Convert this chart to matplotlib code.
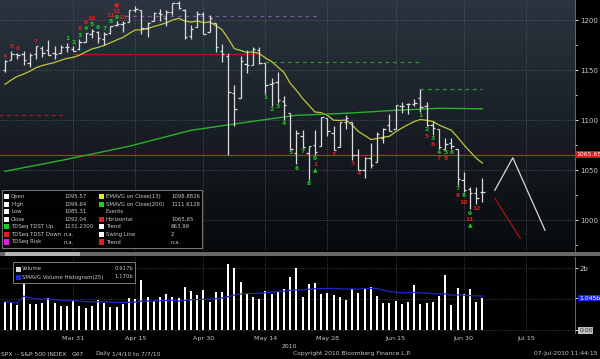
import numpy as np
import pandas as pd
import matplotlib
matplotlib.use("Agg")
import matplotlib.pyplot as plt
from matplotlib.patches import Rectangle
from matplotlib.colors import LinearSegmentedColormap

W, H = 600, 359

# trading days on the chart (Mar 16 .. Jul 6 2010)
holidays = pd.to_datetime(["2010-04-02", "2010-05-31", "2010-07-05"])
days = pd.bdate_range("2010-03-16", "2010-07-06").drop(holidays)
axis_days = pd.bdate_range("2010-03-16", "2010-07-30").drop(holidays)

opens = [1150.8, 1159.9, 1166.1, 1166.7, 1157.2, 1166.5, 1172.7, 1170.0, 1167.6, 1167.7,
         1173.8, 1171.8, 1171.2, 1178.7, 1186.0, 1188.2, 1181.8, 1187.5, 1194.9, 1195.9,
         1198.7, 1210.8, 1210.2, 1192.1, 1199.0, 1207.2, 1202.5, 1207.9, 1217.1, 1209.9,
         1184.6, 1193.3, 1206.8, 1188.6, 1197.5, 1169.2, 1164.4, 1127.0, 1122.3, 1156.4,
         1155.4, 1170.0, 1157.2, 1136.5, 1138.8, 1119.6, 1107.3, 1067.3, 1084.8, 1067.4,
         1075.5, 1074.3, 1102.6, 1087.3, 1073.0, 1098.8, 1098.4, 1065.8, 1050.8, 1062.8,
         1058.8, 1082.7, 1095.0, 1091.2, 1114.0, 1116.0, 1116.2, 1122.8, 1113.9, 1095.57,
         1090.9, 1071.8, 1077.5, 1071.1, 1040.6, 1031.1, 1027.6, 1028.1]
highs = [1160.3, 1169.8, 1167.8, 1169.2, 1167.8, 1174.7, 1174.2, 1180.7, 1173.9, 1174.9,
         1177.8, 1174.6, 1181.4, 1187.7, 1191.8, 1189.6, 1188.6, 1194.7, 1199.2, 1199.0,
         1210.7, 1213.9, 1210.2, 1197.9, 1208.6, 1211.0, 1210.3, 1217.3, 1219.8, 1211.4,
         1195.1, 1209.4, 1208.0, 1205.1, 1197.5, 1176.0, 1167.6, 1135.1, 1163.9, 1170.5,
         1172.9, 1173.6, 1157.2, 1141.9, 1148.7, 1124.3, 1107.3, 1090.2, 1090.0, 1074.8,
         1090.8, 1103.5, 1102.6, 1094.8, 1098.6, 1105.7, 1098.4, 1071.4, 1063.2, 1077.7,
         1087.9, 1092.0, 1105.9, 1115.6, 1118.7, 1117.7, 1121.0, 1131.2, 1118.5, 1099.64,
         1090.9, 1082.6, 1082.6, 1071.1, 1048.1, 1033.6, 1033.0, 1042.5]
lows = [1148.3, 1159.9, 1161.2, 1155.3, 1152.9, 1161.5, 1163.8, 1165.1, 1161.5, 1167.7,
        1168.5, 1169.3, 1170.7, 1178.7, 1182.8, 1177.3, 1175.1, 1186.0, 1194.7, 1188.8,
        1198.7, 1208.5, 1186.8, 1183.7, 1199.0, 1198.9, 1194.6, 1205.1, 1211.1, 1181.6,
        1181.8, 1193.3, 1186.3, 1188.6, 1168.1, 1158.2, 1065.8, 1094.2, 1122.3, 1147.7,
        1155.4, 1156.1, 1126.1, 1114.0, 1117.2, 1100.7, 1071.6, 1055.9, 1072.7, 1040.8,
        1065.6, 1074.3, 1084.8, 1069.9, 1072.9, 1091.8, 1060.5, 1050.3, 1042.2, 1052.3,
        1058.8, 1077.6, 1089.0, 1091.2, 1107.1, 1105.9, 1113.9, 1108.2, 1094.2, 1085.31,
        1071.6, 1071.4, 1071.5, 1035.2, 1028.3, 1010.9, 1015.9, 1018.4]
closes = [1159.5, 1166.2, 1165.8, 1159.9, 1165.8, 1174.2, 1167.7, 1165.7, 1166.6, 1173.2,
          1173.3, 1169.4, 1178.1, 1187.4, 1189.4, 1182.4, 1186.4, 1194.4, 1196.5, 1197.3,
          1210.7, 1211.7, 1192.1, 1197.5, 1207.2, 1205.9, 1208.7, 1217.3, 1212.1, 1183.7,
          1191.4, 1206.8, 1186.7, 1202.3, 1173.6, 1165.9, 1128.2, 1110.9, 1159.7, 1155.8,
          1171.7, 1157.4, 1135.7, 1136.9, 1120.8, 1115.1, 1071.6, 1087.7, 1073.7, 1074.0,
          1068.0, 1103.1, 1089.4, 1070.7, 1098.4, 1102.8, 1064.9, 1050.5, 1062.0, 1055.7,
          1086.8, 1091.6, 1089.6, 1115.2, 1114.6, 1116.0, 1117.5, 1113.2, 1095.3, 1092.04,
          1073.7, 1076.8, 1074.6, 1041.2, 1030.7, 1027.4, 1022.6, 1028.1]
# volume, billions
volume = [0.91, 0.88, 0.81, 1.77, 0.83, 0.85, 0.88, 1.02, 0.86, 0.78,
          0.77, 0.97, 0.78, 0.72, 0.78, 0.97, 0.88, 0.75, 0.73, 0.83,
          1.02, 1.00, 1.61, 1.05, 0.95, 1.08, 1.15, 1.05, 1.02, 1.38,
          1.26, 1.13, 1.29, 0.91, 1.24, 1.22, 2.12, 2.01, 1.56, 1.18,
          1.05, 0.99, 1.26, 1.16, 1.27, 1.32, 1.70, 1.99, 1.05, 1.48,
          1.53, 1.15, 1.18, 1.13, 1.05, 0.97, 1.32, 1.18, 1.31, 1.38,
          1.09, 0.86, 0.88, 0.95, 0.83, 0.91, 1.45, 0.84, 0.88, 0.917,
          1.09, 1.77, 0.81, 1.34, 1.16, 1.31, 0.91, 1.045]

ema_seed = 1136.0          # EMAVG(13) at the first bar
sma200_idx = [0, 10, 20, 30, 40, 47, 55, 63, 70, 77]
sma200_val = [1049, 1061, 1074, 1090, 1099, 1105, 1107, 1110, 1112, 1111.5]

tick_dates = ["2010-03-31", "2010-04-15", "2010-04-30", "2010-05-14",
              "2010-05-28", "2010-06-15", "2010-06-30", "2010-07-15"]
tick_labels = ["Mar 31", "Apr 15", "Apr 30", "May 14", "May 28", "Jun 15", "Jun 30", "Jul 15"]

# TD sequential counts: (bar, text, colour, side)
td_labels = [
    (0, "4", "r", "hi"), (1, "5", "r", "hi"), (2, "6", "r", "hi"), (5, "7", "r", "hi"),
    (10, "1", "g", "hi"), (11, "2", "g", "hi"), (12, "3", "g", "hi"), (12, "8", "r", "hi"),
    (13, "4", "g", "hi"), (13, "9", "r", "hi"), (14, "5", "g", "hi"), (14, "10", "r", "hi"),
    (15, "6", "g", "hi"), (16, "7", "g", "hi"), (17, "8", "g", "hi"), (17, "11", "r", "hi"),
    (18, "9", "g", "hi"), (18, "12", "r", "hi"), (18, "\u25cf", "r", "hi"), (19, "13", "r", "hi"),
    (42, "1", "g", "lo"), (43, "2", "g", "lo"), (44, "3", "g", "lo"), (45, "4", "g", "lo"),
    (46, "5", "g", "lo"), (47, "6", "g", "lo"), (48, "7", "g", "lo"), (49, "8", "g", "lo"),
    (50, "9", "g", "lo"), (50, "1", "r", "lo"), (50, "\u25b2", "g", "lo"),
    (53, "2", "r", "lo"), (56, "3", "r", "lo"), (57, "4", "r", "lo"),
    (67, "1", "g", "lo"), (68, "2", "g", "lo"), (68, "5", "r", "lo"), (69, "3", "g", "lo"),
    (69, "6", "r", "lo"), (70, "4", "g", "lo"), (70, "7", "r", "lo"), (71, "5", "g", "lo"),
    (71, "8", "r", "lo"), (72, "6", "g", "lo"), (73, "7", "g", "lo"), (73, "9", "r", "lo"),
    (74, "8", "g", "lo"), (74, "10", "r", "lo"), (75, "9", "g", "lo"), (75, "11", "r", "lo"),
    (75, "\u25b2", "g", "lo"), (76, "12", "r", "lo"),
]

# levels: (price, first bar, last bar)
horizontal = 1065.65
tdst_down = (1166.0, 11, 41)
old_support = (1105.0, -1, 9.4)
risk_line = (1204.6, 19.4, 50.3)
tdst_old = (1158.0, 42, 67.3)
tdst_up = (1131.23, 67, 77)
trend_white = ([79, 81.9, 87.1], [1030, 1062.5, 990])
trend_red = ([79, 83.1], [1022, 982])

# legend readings at the cursor bar (Jun 23)
sel = 69
legend_left = [("Open", "1095.57"), ("High", "1099.64"), ("Low", "1085.31"),
               ("Close", "1092.04"), ("TDSeq TDST Up", "1131.2300"),
               ("TDSeq TDST Down", "n.a."), ("TDSeq Risk", "n.a.")]
legend_right = [("EMAVG on Close(13)", "1098.8826"), ("SMAVG on Close(200)", "1111.6128"),
                ("Events", ""), ("Horizontal", "1065.65"), ("Trend", "663.99"),
                ("Swing Line", "2"), ("Trend", "n.a.")]
vol_legend = [("Volume", "0.917b"), ("SMAVG Volume Histogram(25)", "1.170b")]

RED, GREEN = "#d42020", "#22c822"
BAR = "#dcdcdc"
TXT = "#c8c8c8"

x = np.arange(len(days))
close = np.array(closes)
ema = np.empty(len(close))
ema[0] = ema_seed
k = 2 / 14
for i in range(1, len(close)):
    ema[i] = ema[i - 1] + k * (close[i] - ema[i - 1])
vol_sma = pd.Series(volume).rolling(25, min_periods=1).mean()

pos = {d: i for i, d in enumerate(axis_days)}
tick_x = [pos[pd.Timestamp(d)] for d in tick_dates]


def fig_xy(px, py):
    return px / W, 1 - py / H


fig = plt.figure(figsize=(6, 3.59), dpi=100, facecolor="black")
ax = fig.add_axes([0, 1 - 251 / H, 575 / W, 251 / H])
axv = fig.add_axes([0, 1 - 333 / H, 575 / W, 76 / H], sharex=ax)

xl = (-5 / 6.2, 570 / 6.2)
ax.set_xlim(*xl)
ax.set_ylim(969.3, 1220.3)

# background gradient
cmap = LinearSegmentedColormap.from_list("bb", ["#070a0d", "#2b343f"])
grad = np.linspace(0, 1, 256).reshape(-1, 1)
ax.imshow(grad, extent=[xl[0], xl[1], 969.3, 1220.3], origin="lower",
          aspect="auto", cmap=cmap, zorder=0)

for yv in range(1000, 1201, 50):
    ax.axhline(yv, color="#56606b", lw=0.6, ls=":", zorder=1)
for tx in tick_x:
    ax.axvline(tx, color="#56606b", lw=0.6, ls=":", zorder=1)
    axv.axvline(tx, color="#555555", lw=0.6, ls=":", zorder=1)

# levels
ax.axhline(horizontal, color=RED, lw=0.9, zorder=2)
ax.hlines(tdst_down[0], tdst_down[1], tdst_down[2], color="#b01818", lw=0.9, zorder=2)
ax.hlines(old_support[0], old_support[1], old_support[2], color="#b01818", lw=0.9,
          ls=(0, (3, 3)), zorder=2)
ax.hlines(risk_line[0], risk_line[1], risk_line[2], color="#7a5a9a", lw=0.9,
          ls=(0, (3, 3)), zorder=2)
ax.hlines(tdst_old[0], tdst_old[1], tdst_old[2], color="#2a9a2a", lw=0.9,
          ls=(0, (3, 3)), zorder=2)
ax.hlines(tdst_up[0], tdst_up[1], tdst_up[2], color="#2a9a2a", lw=0.9,
          ls=(0, (3, 3)), zorder=2)
ax.vlines(tdst_up[1], closes[tdst_up[1]], tdst_up[0], color="#2a9a2a", lw=0.9,
          ls=(0, (2, 2)), zorder=4)

# moving averages
ax.plot(x, ema, color="#c4c43c", lw=0.9, zorder=3)
ax.plot(sma200_idx, sma200_val, color="#2cb02c", lw=1.0, zorder=3)

# OHLC bars
ax.vlines(x, lows, highs, color=BAR, lw=0.9, zorder=4)
ax.hlines(opens, x - 0.4, x, color=BAR, lw=0.9, zorder=4)
ax.hlines(closes, x, x + 0.4, color=BAR, lw=0.9, zorder=4)

# trend lines
ax.plot(*trend_white, color="#d8d8d8", lw=0.9, zorder=3)
ax.plot(*trend_red, color="#b01010", lw=0.9, zorder=3)

# TD sequential labels
stack = {}
for i, txt, c, side in td_labels:
    lvl = stack.get((i, side), 0)
    stack[(i, side)] = lvl + 1
    off = 2.6 + 4.6 * lvl
    yv, dy = (highs[i], off) if side == "hi" else (lows[i], -off)
    ax.annotate(txt, (i, yv), xytext=(0, dy), textcoords="offset points",
                ha="center", va="center", fontsize=4.3, fontweight="bold",
                color=GREEN if c == "g" else RED, zorder=6)

ax.yaxis.tick_right()
ax.set_yticks(range(1000, 1201, 50))
ax.set_yticks(range(975, 1220, 25), minor=True)
ax.tick_params(axis="y", which="both", colors="white", labelcolor=TXT,
               labelsize=5, length=2.5, width=0.6, pad=1.5)
ax.tick_params(axis="y", which="minor", length=1.5)
ax.tick_params(axis="x", which="both", bottom=False, labelbottom=False)
for s in ["top", "left", "bottom"]:
    ax.spines[s].set_visible(False)
ax.spines["right"].set_color("#7a7a7a")
ax.spines["right"].set_linewidth(0.6)
ax.text(1.002, horizontal, f"{horizontal:.2f}", transform=ax.get_yaxis_transform(),
        fontsize=4.4, color="white", va="center", ha="left",
        bbox=dict(facecolor="#d01c1c", edgecolor="none", pad=0.6))

# volume panel
axv.set_facecolor("black")
axv.set_ylim(-0.097, 2.355)
for yv in (0, 1, 2):
    axv.axhline(yv, color="#555555", lw=0.6, ls=":", zorder=1)
axv.bar(x, volume, width=0.32, color="white", zorder=3)
axv.plot(x, vol_sma, color="#2424c8", lw=0.9, zorder=4)
axv.yaxis.tick_right()
axv.set_yticks([0, volume[-1], 2])
axv.set_yticklabels(["0.00", f"{volume[-1]:.3f}b", "2b"])
axv.tick_params(axis="y", colors="white", labelcolor=TXT, labelsize=4.4,
                length=2, width=0.6, pad=1)
lbls = axv.get_yticklabels()
lbls[0].set_bbox(dict(facecolor="#bdbdbd", edgecolor="none", pad=0.5))
lbls[0].set_color("#333333")
lbls[1].set_bbox(dict(facecolor="#1a2ad8", edgecolor="none", pad=0.5))
lbls[1].set_color("white")
lbls[2].set_fontsize(5)
axv.set_xticks(tick_x)
axv.set_xticklabels(tick_labels)
axv.tick_params(axis="x", colors="#777777", labelcolor=TXT, labelsize=4.6,
                length=0, pad=2)
for s in ["top", "left", "bottom"]:
    axv.spines[s].set_visible(False)
axv.spines["right"].set_color("#7a7a7a")
axv.spines["right"].set_linewidth(0.6)

# separator / scroll strip between panels
fig.add_artist(Rectangle(fig_xy(0, 256), 1, 4 / H, transform=fig.transFigure,
                         facecolor="#686868", edgecolor="none", zorder=5))
fig.add_artist(Rectangle(fig_xy(5, 256), 75 / W, 4 / H, transform=fig.transFigure,
                         facecolor="#b4b4b4", edgecolor="none", zorder=6))

# main legend
fig.add_artist(Rectangle(fig_xy(2, 248), 200 / W, 58 / H, transform=fig.transFigure,
                         facecolor=(0, 0, 0, 0.88), edgecolor="#8c8c8c", lw=0.6, zorder=10))
left_cols = ["white", "white", "white", "white", "#22cc22", "#e02020", "#e020e0"]
right_cols = ["#e8e820", "#22cc22", None, "#e02020", "white", "white", "#e02020"]
for r in range(len(legend_left)):
    yy = 196.7 + 7.55 * r
    for sx, (lab, val), col, vx in ((4, legend_left[r], left_cols[r], 64),
                                    (99, legend_right[r], right_cols[r], 171)):
        if col:
            fig.add_artist(Rectangle(fig_xy(sx, yy + 2.6), 5.2 / W, 5.2 / H,
                                     transform=fig.transFigure, facecolor=col,
                                     edgecolor="none", zorder=11))
        fig.text(*fig_xy(sx + 7, yy), lab, fontsize=3.9, color=TXT, va="center",
                 ha="left", zorder=12)
        fig.text(*fig_xy(vx, yy), val, fontsize=3.9, color=TXT, va="center",
                 ha="left", zorder=12)

# volume legend
fig.add_artist(Rectangle(fig_xy(13, 283), 122 / W, 21 / H, transform=fig.transFigure,
                         facecolor="black", edgecolor="#8c8c8c", lw=0.6, zorder=10))
for r, ((lab, val), col) in enumerate(zip(vol_legend, ["#d8d8d8", "#1a2ad8"])):
    yy = 269 + 8 * r
    fig.add_artist(Rectangle(fig_xy(15.5, yy + 2.5), 5 / W, 5 / H, transform=fig.transFigure,
                             facecolor=col, edgecolor="none", zorder=11))
    fig.text(*fig_xy(22, yy), lab, fontsize=3.9, color=TXT, va="center", zorder=12)
    fig.text(*fig_xy(133, yy), val, fontsize=3.9, color=TXT, va="center", ha="right", zorder=12)

# footer
fig.text(*fig_xy(289, 346), "2010", fontsize=4.4, color=TXT, ha="center", va="center")
fy = 354
fig.text(*fig_xy(1, fy), "SPX -- S&P 500 INDEX", fontsize=4.3, color=TXT, va="center")
fig.text(*fig_xy(72, fy), "G47", fontsize=4.3, color=TXT, va="center")
fig.text(*fig_xy(95, fy), "Daily", fontsize=4.3, color=TXT, va="center")
fig.text(*fig_xy(112, fy), "1/4/10 to 7/7/10", fontsize=4.3, color=TXT, va="center")
fig.text(*fig_xy(293, fy), "Copyright 2010 Bloomberg Finance L.P.", fontsize=4.3,
         color=TXT, va="center")
fig.text(*fig_xy(598, fy), "07-Jul-2010 11:44:15", fontsize=4.3, color=TXT,
         va="center", ha="right")

fig.savefig("out.png", dpi=100, facecolor="black")
